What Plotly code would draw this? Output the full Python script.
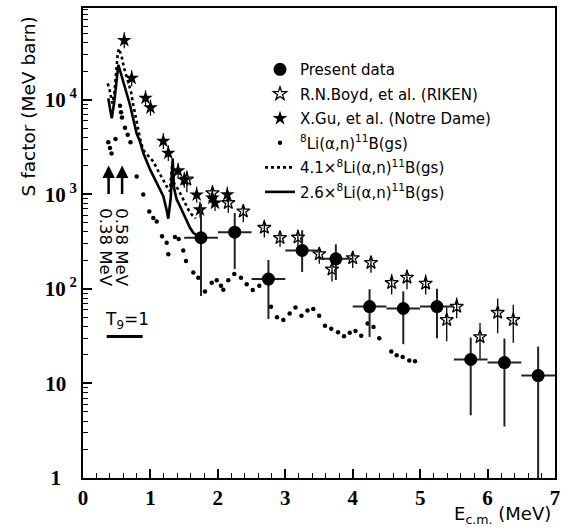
import plotly.graph_objects as go

# ---------------- data ----------------
# Present data (filled circles)
pres_E = [1.75, 2.25, 2.75, 3.25, 3.75, 4.25, 4.75, 5.25, 5.75, 6.25, 6.75]
pres_S = [347, 398, 127, 255, 208, 65, 62, 65, 17.9, 16.6, 12.1]
pres_hi = [790, 635, 202, 417, 296, 99, 94, 100, 30.5, 29.8, 24.5]
pres_lo = [84, 162, 48, 151, 124, 31, 26, 30, 4.6, 3.5, 1.0]
pres_dE = [0.25] * 11

# R.N.Boyd et al. (RIKEN) (open stars)
boyd_E = [1.54, 1.92, 2.155, 2.377, 2.689, 2.922, 3.188, 3.504, 3.693, 4.0,
          4.271, 4.578, 4.805, 5.082, 5.394, 5.542, 5.888, 6.150, 6.381]
boyd_S = [1440, 1030, 811, 662, 444, 347, 350, 234, 161, 212,
          189, 116, 132, 114, 47, 65, 31, 56, 47]
boyd_hi = [1790, 1250, 920, 766, 539, 411, 425, 271, 191, 251,
           224, 144, 160, 142, 64, 81, 43.5, 79, 68]
boyd_lo = [1050, 810, 637, 507, 349, 279, 281, 184, 120, 166,
           148, 87, 99, 87, 28, 49, 18.2, 34, 27]

# X.Gu et al. (Notre Dame) (filled stars)
gu_E = [0.612, 0.722, 0.927, 1.001, 1.191, 1.265, 1.41, 1.502, 1.686, 1.735,
        1.918, 1.958, 2.14]
gu_S = [42500, 16900, 10400, 8240, 3650, 2730, 1775, 1422, 988, 687,
        914, 810, 993]
gu_hi = [51600, 20500, 12600, 10000, 4430, 3310, 2150, 1730, 1200, 834,
         1110, 983, 1205]
gu_lo = [35000, 13900, 8570, 6790, 3010, 2250, 1460, 1170, 814, 566,
         753, 667, 818]

# 8Li(a,n)11B(gs) (small dots)
gs_E = [0.375, 0.400, 0.423, 0.482, 0.549, 0.564, 0.578, 0.623, 0.663, 0.704,
        0.796, 0.894, 0.983, 1.043, 1.093, 1.172, 1.241, 1.265, 1.364, 1.419,
        1.487, 1.528, 1.636, 1.710, 1.809, 1.909, 1.983, 2.047, 2.081, 2.155,
        2.244, 2.343, 2.428, 2.517, 2.615, 2.788, 2.877, 2.971, 3.065, 3.151,
        3.240, 3.329, 3.415, 3.503, 3.589, 3.682, 3.782, 3.871, 3.955, 4.041,
        4.126, 4.222, 4.308, 4.394, 4.572, 4.652, 4.741, 4.839, 4.924]
gs_S = [3556, 3085, 2702, 3855, 8650, 7380, 6470, 5070, 4250, 3556,
        1547, 993, 658, 563, 516, 361, 307, 232, 353, 336,
        255, 197, 149, 131, 94, 116, 123, 108, 98, 123,
        144, 131, 112, 97, 108, 64.7, 50.1, 46.9, 55, 63.6,
        52, 59.1, 61.1, 52, 40.8, 37.9, 34.7, 31.6, 34.3, 35.8,
        32, 43.1, 39.4, 30.1, 21.7, 19.9, 19.0, 17.5, 17.2]

# 4.1 x 8Li(a,n)11B(gs) (dotted line)
l41_E = [0.366, 0.390, 0.415, 0.435, 0.464, 0.489, 0.515, 0.534, 0.574, 0.612,
         0.663, 0.712, 0.746, 0.782, 0.820, 0.860, 0.909, 0.950, 0.994, 1.043,
         1.093, 1.167, 1.241, 1.290, 1.320, 1.350, 1.413, 1.464, 1.513, 1.562,
         1.612, 1.671]
l41_S = [14860, 13150, 10760, 9150, 11640, 19720, 30690, 34670, 28370, 21350,
         16110, 12140, 8790, 6350, 4600, 3470, 2840, 2650, 2450, 2225,
         1890, 1485, 1214, 1076, 1972, 1306, 1120, 953, 810, 690,
         611, 555]

# 2.6 x 8Li(a,n)11B(gs) (solid line)
l26_E = [0.375, 0.400, 0.426, 0.464, 0.500, 0.524, 0.538, 0.598, 0.648, 0.697,
         0.746, 0.796, 0.845, 0.894, 0.994, 1.093, 1.191, 1.241, 1.265, 1.301,
         1.330, 1.350, 1.390, 1.439, 1.487, 1.538, 1.587, 1.636, 1.691]
l26_S = [10330, 8430, 6350, 9530, 15460, 23350, 21730, 14860, 11640, 8790,
         6350, 4390, 3610, 2735, 1833, 1321, 953, 679, 552, 914,
         2393, 1165, 880, 748, 635, 520, 442, 392, 366]

x_ticks = [0, 1, 2, 3, 4, 5, 6, 7]
y_ticks = [1, 10, 100, 1000, 10000]
y_ticktext = ["1\u00a0\u00a0\u00a0", "10\u00a0\u00a0", "10<sup>\u00a02</sup>",
              "10<sup>\u00a03</sup>", "10<sup>\u00a04</sup>"]

# ---------------- figure ----------------
fig = go.Figure()

fig.add_trace(go.Scatter(
    x=l41_E, y=l41_S, mode="lines", name="4.1\u00d7<sup>8</sup>Li(\u03b1,n)<sup>11</sup>B(gs)",
    line=dict(color="black", width=2.6, dash="dot"), legendrank=5, legendgroup="g5"))
fig.add_trace(go.Scatter(
    x=l26_E, y=l26_S, mode="lines", name="2.6\u00d7<sup>8</sup>Li(\u03b1,n)<sup>11</sup>B(gs)",
    line=dict(color="black", width=2.6), legendrank=6, legendgroup="g6"))
fig.add_trace(go.Scatter(
    x=gs_E, y=gs_S, mode="markers", name="<sup>8</sup>Li(\u03b1,n)<sup>11</sup>B(gs)",
    marker=dict(color="black", size=4.5), legendrank=4, legendgroup="g4"))
fig.add_trace(go.Scatter(
    x=gu_E, y=gu_S, mode="markers", name="X.Gu, et al. (Notre Dame)",
    marker=dict(symbol="star", color="black", size=11),
    error_y=dict(type="data", symmetric=False,
                 array=[h - s for h, s in zip(gu_hi, gu_S)],
                 arrayminus=[s - l for s, l in zip(gu_S, gu_lo)],
                 color="black", thickness=1.2, width=0),
    legendrank=3, legendgroup="g3"))
fig.add_trace(go.Scatter(
    x=boyd_E, y=boyd_S, mode="markers", name="R.N.Boyd, et al. (RIKEN)",
    marker=dict(symbol="star-open", color="black", size=10, line=dict(width=1.3)),
    error_y=dict(type="data", symmetric=False,
                 array=[h - s for h, s in zip(boyd_hi, boyd_S)],
                 arrayminus=[s - l for s, l in zip(boyd_S, boyd_lo)],
                 color="black", thickness=1.3, width=0),
    legendrank=2, legendgroup="g2"))
fig.add_trace(go.Scatter(
    x=pres_E, y=pres_S, mode="markers", name="Present data",
    marker=dict(symbol="circle", color="black", size=13),
    error_x=dict(type="data", array=pres_dE, color="#222", thickness=2, width=0),
    error_y=dict(type="data", symmetric=False,
                 array=[h - s for h, s in zip(pres_hi, pres_S)],
                 arrayminus=[s - l for s, l in zip(pres_S, pres_lo)],
                 color="#222", thickness=2, width=0),
    legendrank=1, legendgroup="g1"))

sans = "DejaVu Sans"
serif = "Liberation Serif, Times New Roman, Times, serif"

fig.update_layout(
    width=570, height=529,
    margin=dict(l=83, r=15, t=6, b=51),
    paper_bgcolor="white", plot_bgcolor="white",
    showlegend=True,
    legend=dict(x=0.375, y=0.904, xanchor="left", yanchor="top",
                bgcolor="rgba(0,0,0,0)", font=dict(family=sans, size=15, color="black"),
                tracegroupgap=2.0, itemwidth=30, traceorder="grouped"),
    font=dict(family=sans, color="black"),
)

fig.update_xaxes(
    range=[0, 7], tickvals=x_ticks, ticktext=["<b>%d</b>" % v for v in x_ticks],
    ticks="inside", ticklen=9, tickwidth=1.5, tickcolor="black",
    minor=dict(dtick=0.2, ticks="inside", ticklen=5, tickwidth=1.3, tickcolor="black"),
    showline=True, linecolor="black", linewidth=2, mirror=True,
    showgrid=False, zeroline=False,
    tickfont=dict(family=serif, size=21, color="black"),
)
fig.update_yaxes(
    type="log", range=[0, 4.97], tickvals=y_ticks,
    ticktext=["<b>%s</b>" % t for t in y_ticktext],
    ticks="inside", ticklen=9, tickwidth=1.5, tickcolor="black",
    minor=dict(dtick="D1", ticks="inside", ticklen=5, tickwidth=1.3, tickcolor="black"),
    showline=True, linecolor="black", linewidth=2, mirror=True,
    showgrid=False, zeroline=False,
    tickfont=dict(family=serif, size=21, color="black"),
)

# axis titles
fig.add_annotation(text="S factor (MeV barn)", xref="paper", yref="paper",
                   x=-0.115, y=0.79, textangle=-90, showarrow=False,
                   xanchor="center", yanchor="middle",
                   font=dict(family=sans, size=18.5, color="black"))
fig.add_annotation(text="E<sub>c.m.</sub> (MeV)", xref="paper", yref="paper",
                   x=0.996, y=-0.078, showarrow=False, xanchor="right", yanchor="middle",
                   font=dict(family=sans, size=18, color="black"))

# resonance arrows and labels
for xe in (0.38, 0.58):
    fig.add_annotation(x=xe, y=3.305, xref="x", yref="y", text="", showarrow=True,
                       ax=0, ay=30, arrowhead=2, arrowsize=1, arrowwidth=2.5,
                       arrowcolor="black")
fig.add_annotation(text="0.38 MeV", x=0.341, y=2.44, xref="x", yref="y",
                   textangle=90, showarrow=False, font=dict(family=sans, size=16.5, color="black"))
fig.add_annotation(text="0.58 MeV", x=0.578, y=2.44, xref="x", yref="y",
                   textangle=90, showarrow=False, font=dict(family=sans, size=16.5, color="black"))

# T9 = 1 marker
fig.add_annotation(text="T<sub>9</sub>=1", x=0.65, y=1.663, xref="x", yref="y",
                   showarrow=False, font=dict(family=sans, size=17, color="black"))
fig.add_shape(type="line", xref="x", yref="paper", x0=0.351, x1=0.885, y0=0.3008, y1=0.3008,
              line=dict(color="black", width=3))

fig.write_html("out.html")
